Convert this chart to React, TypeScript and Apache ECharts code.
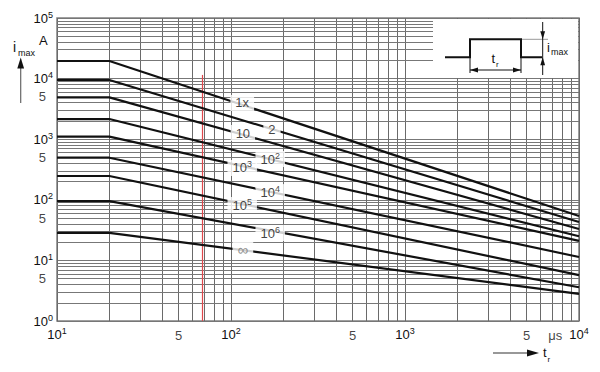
import React, { useEffect, useRef } from "react";
import * as echarts from "echarts";

// ---- data ----
const curveNames = ["1x", "2", "10", "10^2", "10^3", "10^4", "10^5", "10^6", "∞"];
const tStart = 10; // µs
const tKnee = 20; // µs
const tEnd = 10000; // µs
const iFlat = [19500, 9500, 4900, 2150, 1100, 495, 247, 95, 28.5]; // A, flat part
const iAtEnd = [54, 43, 33, 25, 21, 11.4, 5.7, 3.6, 2.8]; // A at 10^4 µs

// curve label anchor points (data coordinates)
const labelT = [116, 172, 117, 168, 116, 168, 116, 168, 117];
const labelI = [3960, 1420, 1265, 471, 335, 134, 82, 28.3, 14.9];

// axis ranges and ticks
const X_MIN = 10;
const X_MAX = 10000;
const Y_MIN = 1;
const Y_MAX = 100000;
const gridMultipliers = [2, 3, 4, 5, 6, 7, 8, 9];
const xDecades = [10, 100, 1000];
const yDecades = [1, 10, 100, 1000, 10000];
const xExtraTickValues = [50, 500, 5000];
const xExtraTickLabels = ["5", "5", "5"];
const xUnitLabel = "μs";
const xUnitAt = 7300;
const yExtraTickValues = [5, 50, 500, 5000];
const yExtraTickLabels = ["5", "5", "5", "5"];

// red marker line
const redT = 68;
const redTop = 11500;

const FONT = "'Liberation Sans', Arial, Helvetica, sans-serif";

const powLabel = (v: number) => `{b|10}{s|${Math.round(Math.log10(v))}}`;
const curveLabel = (n: string) => {
  if (n === "∞") return "{inf|∞}";
  if (n.indexOf("^") >= 0) {
    const [b, e] = n.split("^");
    return `{b|${b}}{s|${e}}`;
  }
  return `{b|${n}}`;
};

const richBase = {
  b: { fontSize: 13, lineHeight: 16, color: "#111", fontFamily: FONT },
  s: { fontSize: 9, lineHeight: 10, color: "#111", fontFamily: FONT, verticalAlign: "top" },
  inf: { fontSize: 15, lineHeight: 16, color: "#777", fontFamily: FONT },
};

export default function App() {
  const ref = useRef<HTMLDivElement>(null);
  useEffect(() => {
    if (!ref.current) return;
    const chart = echarts.init(ref.current, undefined, { renderer: "svg" });

    const vLines: any[] = [];
    xDecades.forEach((d) => gridMultipliers.forEach((m) => vLines.push({ xAxis: d * m })));
    const hLines: any[] = [];
    yDecades.forEach((d) => gridMultipliers.forEach((m) => hLines.push({ yAxis: d * m })));

    const curveSeries = curveNames.map((n, i) => ({
      type: "line",
      name: n,
      data: [
        [tStart, iFlat[i]],
        [tKnee, iFlat[i]],
        [tEnd, iAtEnd[i]],
      ],
      symbol: "none",
      lineStyle: { color: "#111", width: 2.2 },
      z: 5,
      silent: true,
    }));

    const gLine = (x1: number, y1: number, x2: number, y2: number, color = "#111", w = 1) => ({
      type: "line",
      shape: { x1, y1, x2, y2 },
      style: { stroke: color, lineWidth: w },
      z: 51,
    });
    const gTri = (pts: number[][], color = "#111") => ({
      type: "polygon",
      shape: { points: pts },
      style: { fill: color },
      z: 52,
    });
    const gText = (x: number, y: number, text: string, size: number, color = "#111", align = "left", valign = "bottom") => ({
      type: "text",
      x,
      y,
      style: {
        text,
        font: `${size}px ${FONT}`,
        fill: color,
        align,
        verticalAlign: valign,
        textAlign: align,
        textVerticalAlign: valign,
      },
      z: 53,
    });

    chart.setOption({
      animation: false,
      backgroundColor: "#fff",
      grid: {
        left: 57,
        right: 21,
        top: 18,
        bottom: 51,
        show: true,
        borderColor: "#808080",
        borderWidth: 1.5,
        backgroundColor: "transparent",
        containLabel: false,
        outerBoundsMode: "none",
      },
      xAxis: {
        type: "log",
        logBase: 10,
        min: X_MIN,
        max: X_MAX,
        axisLine: { show: false },
        axisTick: { show: false },
        splitLine: { show: true, lineStyle: { color: "#6a6a6a", width: 1 } },
        axisLabel: {
          showMinLabel: true,
          showMaxLabel: true,
          hideOverlap: false,
          margin: 5,
          formatter: (v: number) => powLabel(v),
          rich: richBase,
        },
      },
      yAxis: {
        type: "log",
        logBase: 10,
        min: Y_MIN,
        max: Y_MAX,
        axisLine: { show: false },
        axisTick: { show: false },
        splitLine: { show: true, lineStyle: { color: "#777", width: 1 } },
        axisLabel: {
          showMinLabel: true,
          showMaxLabel: true,
          hideOverlap: false,
          margin: 4,
          formatter: (v: number) => powLabel(v),
          rich: richBase,
        },
      },
      series: [
        {
          type: "line",
          name: "grid",
          data: [[X_MIN, Y_MIN]],
          symbol: "none",
          lineStyle: { width: 0 },
          silent: true,
          z: 1,
          markLine: {
            silent: true,
            symbol: "none",
            label: { show: false },
            animation: false,
            lineStyle: { type: "solid", color: "#777", width: 1 },
            data: [
              ...vLines.map((d) => ({ ...d, lineStyle: { type: "solid", color: "#6a6a6a", width: 1 } })),
              ...hLines,
            ],
          },
        },
        {
          type: "line",
          name: "red",
          data: [[X_MIN, Y_MIN]],
          symbol: "none",
          lineStyle: { width: 0 },
          silent: true,
          z: 3,
          markLine: {
            silent: true,
            symbol: "none",
            label: { show: false },
            animation: false,
            lineStyle: { type: "solid", color: "#e0474c", width: 1.2 },
            data: [
              [
                { coord: [redT, redTop] },
                { coord: [redT, Y_MIN] },
              ],
            ],
          },
        },
        ...curveSeries,
        {
          type: "scatter",
          name: "curveLabels",
          symbolSize: 0,
          silent: true,
          z: 8,
          data: curveNames.map((n, i) => ({ name: n, value: [labelT[i], labelI[i]] })),
          label: {
            show: true,
            position: "inside",
            formatter: (p: any) => curveLabel(p.name),
            backgroundColor: "#fff",
            padding: [0, 5, 0, 5],
            rich: richBase,
          },
        },
        {
          type: "scatter",
          name: "yTicks",
          symbolSize: 0,
          silent: true,
          z: 8,
          data: yExtraTickValues.map((v, i) => ({ name: yExtraTickLabels[i], value: [X_MIN, v] })),
          label: {
            show: true,
            position: "left",
            distance: 11,
            formatter: (p: any) => p.name,
            fontSize: 13,
            fontFamily: FONT,
            color: "#111",
          },
        },
        {
          type: "scatter",
          name: "xTicks",
          symbolSize: 0,
          silent: true,
          z: 8,
          data: [
            ...xExtraTickValues.map((v, i) => ({ name: xExtraTickLabels[i], value: [v, Y_MIN] })),
            { name: xUnitLabel, value: [xUnitAt, Y_MIN] },
          ],
          label: {
            show: true,
            position: "bottom",
            distance: 8,
            formatter: (p: any) => p.name,
            fontSize: 13,
            fontFamily: FONT,
            color: "#111",
          },
        },
      ],
      graphic: [
        // inset white box
        { type: "rect", shape: { x: 433, y: 19, width: 145, height: 59 }, style: { fill: "#fff" }, z: 50 },
        // pulse
        {
          type: "polyline",
          shape: { points: [[445, 57.3], [470, 57.3], [470, 39.3], [521, 39.3], [521, 57.3], [542, 57.3]] },
          style: { stroke: "#111", lineWidth: 2, fill: null },
          z: 52,
        },
        gLine(470, 57, 470, 73),
        gLine(521, 57, 521, 73),
        gLine(470, 70, 521, 70),
        gTri([[470, 70], [478, 67.6], [478, 72.4]]),
        gTri([[521, 70], [513, 67.6], [513, 72.4]]),
        gLine(521, 39.3, 548, 39.3, "#999", 1),
        gLine(542.7, 22, 542.7, 75),
        gTri([[542.7, 39.3], [540.3, 31.3], [545.1, 31.3]]),
        gTri([[542.7, 57.3], [540.3, 65.3], [545.1, 65.3]]),
        gText(491.5, 65, "t", 13),
        gText(496, 68, "r", 8),
        gText(547, 54, "i", 13),
        gText(551, 56, "max", 9),
        // y axis title
        gText(13, 54, "i", 14),
        gText(18, 57, "max", 9),
        gText(39, 47, "A", 13),
        gLine(20.7, 103, 20.7, 66, "#666", 1.2),
        gTri([[20.7, 57.5], [17.3, 68.5], [24.1, 68.5]]),
        // x axis title
        gLine(493, 353, 530, 353, "#333", 1.2),
        gTri([[539, 353], [527, 349.6], [527, 356.4]]),
        gText(543, 359, "t", 13),
        gText(547.5, 363, "r", 8),
      ],
    });
    return () => chart.dispose();
  }, []);
  return (
    <div
      ref={ref}
      style={{ position: "fixed", left: 0, top: 0, width: 600, height: 372, background: "#fff" }}
    />
  );
}
